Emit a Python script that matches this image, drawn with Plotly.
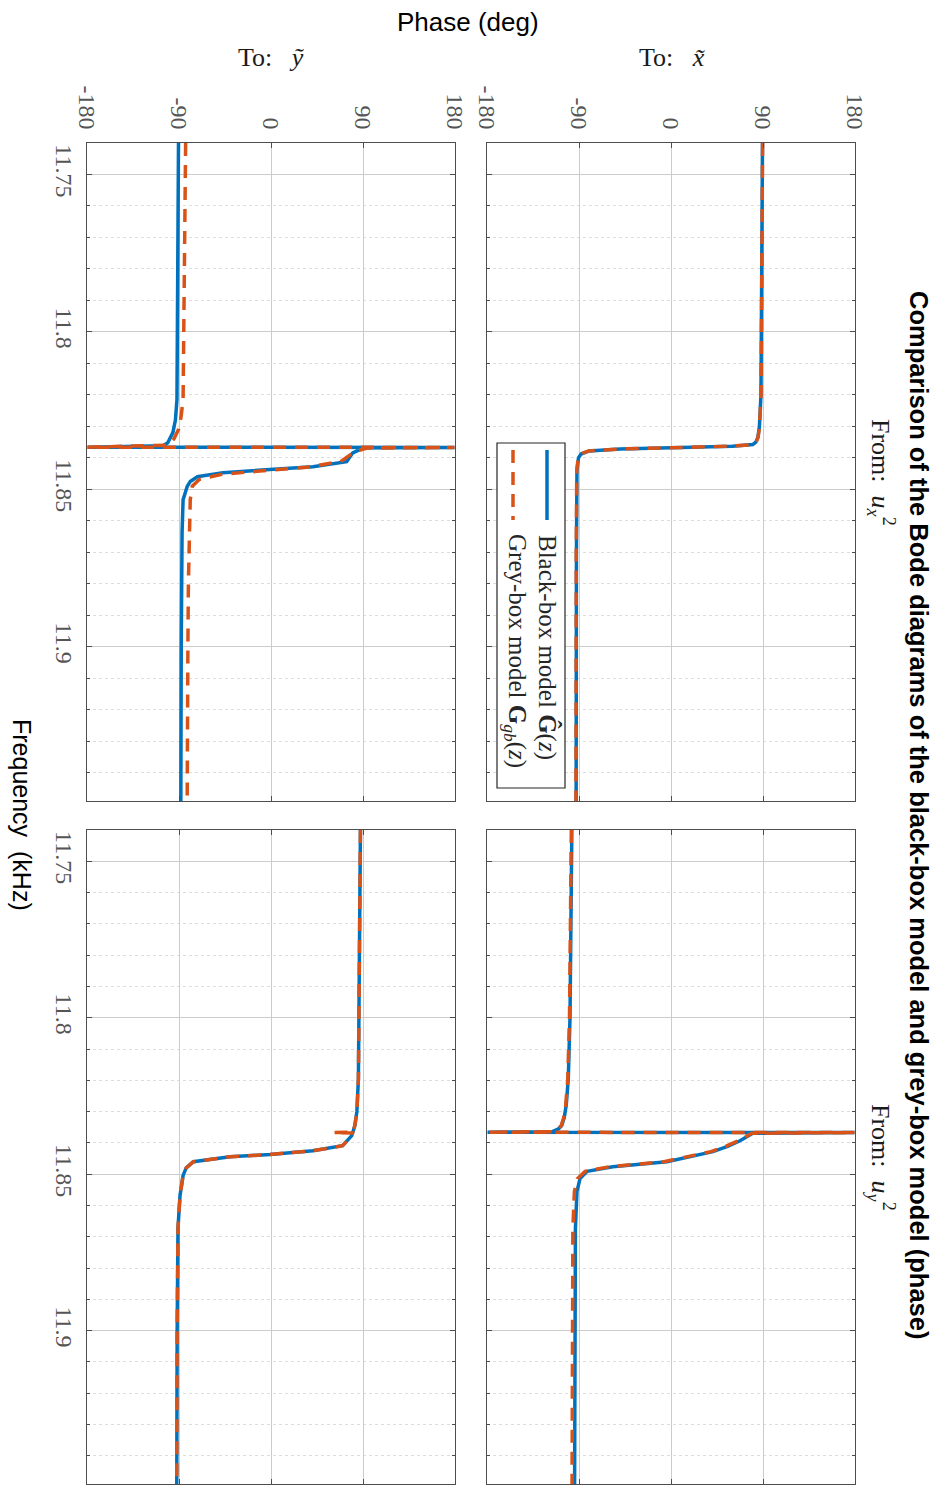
import plotly.graph_objects as go

# ---------------- data (frequency in kHz, phase in deg) ----------------
PHASE_TICKS = [-180, -90, 0, 90, 180]
PHASE_TICK_TEXT = ["-180", "-90", "0", "90", "180"]
FREQ_TICKS = [11.75, 11.80, 11.85, 11.90]
FREQ_TICK_TEXT = ["11.75", "11.8", "11.85", "11.9"]
FREQ_RANGE = [11.74, 11.949]

# From u_x^2 -> To y~
freq_ux_y_bb = [11.740, 11.760, 11.780, 11.800, 11.815, 11.8215, 11.828, 11.832, 11.8352, 11.8362,
                11.8366, 11.8367, 11.8369, 11.8384, 11.8412, 11.8428, 11.8437, 11.8447, 11.8460,
                11.8475, 11.8491, 11.8533, 11.8638, 11.880, 11.900, 11.925, 11.949]
phase_ux_y_bb = [-90.5, -90.8, -91.0, -91.3, -91.7, -92.0, -93.5, -96.0, -101.0, -106.0,
                 -179.5, 179.5, 90.0, 80.0, 74.0, 41.0, -4.0, -47.0, -72.0,
                 -79.0, -82.0, -86.0, -87.0, -87.5, -87.8, -88.0, -88.2]
freq_ux_y_gb = [11.740, 11.760, 11.780, 11.800, 11.815, 11.8215, 11.827, 11.831, 11.834, 11.8360,
                11.8366, 11.8367, 11.8369, 11.8380, 11.8412, 11.8430, 11.8440, 11.8452, 11.8468,
                11.8490, 11.8533, 11.8638, 11.880, 11.900, 11.925, 11.949]
phase_ux_y_gb = [-83.5, -84.0, -84.5, -85.0, -85.5, -86.0, -88.0, -90.5, -95.0, -101.0,
                 -179.5, 179.5, 94.0, 82.0, 68.0, 35.0, -8.0, -48.0, -70.0,
                 -77.0, -79.0, -80.0, -80.8, -81.3, -81.7, -82.0]

# From u_x^2 -> To x~
freq_ux_x_bb = [11.740, 11.770, 11.800, 11.820, 11.830, 11.8335, 11.8350, 11.8358, 11.8363, 11.8368,
                11.8372, 11.8378, 11.8388, 11.8400, 11.8440, 11.870, 11.900, 11.949]
phase_ux_x_bb = [89.5, 89.2, 88.8, 88.0, 86.5, 85.0, 83.0, 80.0, 60.0, 0.0,
                 -50.0, -80.0, -88.0, -90.5, -92.0, -92.5, -92.7, -92.8]
freq_ux_x_gb = [11.740, 11.770, 11.800, 11.820, 11.830, 11.8335, 11.8350, 11.8358, 11.8363, 11.8368,
                11.8372, 11.8378, 11.8388, 11.8400, 11.8440, 11.870, 11.900, 11.949]
phase_ux_x_gb = [89.6, 89.3, 88.9, 88.1, 86.6, 85.2, 83.2, 80.3, 59.0, -1.0,
                 -51.0, -80.5, -88.3, -90.8, -92.2, -92.7, -92.9, -93.0]

# From u_y^2 -> To y~
freq_uy_y_bb = [11.740, 11.770, 11.800, 11.8196, 11.8301, 11.8345, 11.8377, 11.8409, 11.8425, 11.8437,
                11.8444, 11.8452, 11.8460, 11.8480, 11.8504, 11.8568, 11.8673, 11.900, 11.949]
phase_uy_y_bb = [87.5, 87.0, 86.3, 85.5, 84.0, 82.0, 79.0, 70.0, 41.0, -1.0,
                 -40.0, -60.0, -76.0, -83.0, -86.0, -89.0, -91.0, -91.8, -92.2]
freq_uy_y_gb = [11.740, 11.770, 11.800, 11.8196, 11.8301, 11.8345, 11.8366, 11.8367, 11.8368, 11.8377,
                11.8409, 11.8425, 11.8437, 11.8444, 11.8452, 11.8460, 11.8480, 11.8504, 11.8568,
                11.8673, 11.900, 11.949]
phase_uy_y_gb = [87.5, 87.0, 86.3, 85.5, 84.0, 82.0, 80.0, 61.0, 79.8, 79.0,
                 70.0, 41.0, -1.0, -40.0, -60.0, -76.0, -83.0, -86.0, -89.0,
                 -91.0, -91.8, -92.2]

# From u_y^2 -> To x~
freq_uy_x_bb = [11.740, 11.770, 11.800, 11.8196, 11.828, 11.832, 11.8345, 11.8355, 11.8364, 11.8366,
                11.8367, 11.8369, 11.8393, 11.8410, 11.8428, 11.8445, 11.8460, 11.8476, 11.8491,
                11.8514, 11.8555, 11.8673, 11.900, 11.949]
phase_uy_x_bb = [-97.0, -97.8, -98.8, -100.5, -102.5, -104.5, -107.0, -110.0, -116.0, -179.5,
                 179.5, 80.0, 67.5, 56.0, 41.0, 18.0, -4.0, -57.0, -82.0,
                 -89.0, -92.0, -93.5, -94.0, -94.3]
freq_uy_x_gb = [11.740, 11.770, 11.800, 11.8196, 11.828, 11.832, 11.8345, 11.8355, 11.8364, 11.8366,
                11.8367, 11.8369, 11.8393, 11.8410, 11.8428, 11.8445, 11.8460, 11.8476, 11.8491,
                11.8514, 11.8555, 11.8673, 11.900, 11.949]
phase_uy_x_gb = [-97.5, -98.3, -99.3, -101.0, -103.0, -105.0, -107.5, -110.5, -117.0, -179.5,
                 179.5, 79.0, 66.0, 54.0, 39.0, 16.0, -7.0, -60.0, -84.0,
                 -91.5, -94.5, -96.0, -96.5, -96.8]

SERIES_NAMES = ["Black-box model", "Grey-box model"]

# ---------------- layout helpers ----------------
W, H = 937, 1486


def px(x):
    return x / W


def py(y):
    return 1 - y / H


BLUE = "#0072BD"
ORANGE = "#D95319"
AXC = "#4d4d4d"
SERIF = "Liberation Serif"
SANS = "Liberation Sans"

fig = go.Figure()

panels = [
    ("x", "y", freq_ux_y_bb, phase_ux_y_bb, freq_ux_y_gb, phase_ux_y_gb),
    ("x2", "y2", freq_ux_x_bb, phase_ux_x_bb, freq_ux_x_gb, phase_ux_x_gb),
    ("x3", "y3", freq_uy_y_bb, phase_uy_y_bb, freq_uy_y_gb, phase_uy_y_gb),
    ("x4", "y4", freq_uy_x_bb, phase_uy_x_bb, freq_uy_x_gb, phase_uy_x_gb),
]
for xa, ya, fb, pb, fg, pg in panels:
    fig.add_trace(go.Scatter(x=pb, y=fb, xaxis=xa, yaxis=ya, mode="lines",
                             name=SERIES_NAMES[0], showlegend=False,
                             line=dict(color=BLUE, width=3.5)))
    fig.add_trace(go.Scatter(x=pg, y=fg, xaxis=xa, yaxis=ya, mode="lines",
                             name=SERIES_NAMES[1], showlegend=False,
                             line=dict(color=ORANGE, width=3.5, dash="13px,9px")))


def phase_axis(domain, anchor, labels):
    return dict(domain=domain, anchor=anchor, range=[-180, 180], automargin=False,
                tickmode="array", tickvals=PHASE_TICKS, ticktext=PHASE_TICK_TEXT,
                showticklabels=labels, side="top", tickangle=90,
                ticklabelstandoff=4,
                tickfont=dict(family=SERIF, size=24, color="#555555"),
                showgrid=True, gridcolor="#cccccc", gridwidth=1, zeroline=False,
                showline=True, linecolor=AXC, linewidth=1.3, mirror="allticks",
                ticks="inside", ticklen=5, tickcolor=AXC)


def freq_axis(domain, anchor, labels):
    return dict(domain=domain, anchor=anchor, range=[FREQ_RANGE[1], FREQ_RANGE[0]],
                automargin=False,
                tickmode="array", tickvals=FREQ_TICKS, ticktext=FREQ_TICK_TEXT,
                showticklabels=labels, tickangle=90, ticklabelstandoff=1,
                tickfont=dict(family=SERIF, size=24, color="#555555"),
                showgrid=True, gridcolor="#cccccc", gridwidth=1, zeroline=False,
                showline=True, linecolor=AXC, linewidth=1.3, mirror="allticks",
                ticks="inside", ticklen=5, tickcolor=AXC,
                minor=dict(dtick=0.01, tick0=11.74, showgrid=True, gridcolor="#dddddd",
                           griddash="dot", gridwidth=1, ticks="inside", ticklen=3,
                           tickcolor=AXC))


colL = [px(87), px(455)]
colR = [px(487), px(855)]
rowT = [py(801), py(143)]
rowB = [py(1484), py(830)]

fig.update_layout(
    width=W, height=H,
    margin=dict(l=0, r=0, t=0, b=0, pad=0, autoexpand=False),
    paper_bgcolor="white", plot_bgcolor="white",
    showlegend=False,
    xaxis=phase_axis(colL, "y", True),
    xaxis2=phase_axis(colR, "y2", True),
    xaxis3=phase_axis(colL, "y3", False),
    xaxis4=phase_axis(colR, "y4", False),
    yaxis=freq_axis(rowT, "x", True),
    yaxis2=freq_axis(rowT, "x2", False),
    yaxis3=freq_axis(rowB, "x3", True),
    yaxis4=freq_axis(rowB, "x4", False),
)

ann = []


def add_text(text, x, y, size, family, angle=0, color="#1a1a1a"):
    ann.append(dict(text=text, x=px(x), y=py(y), xref="paper", yref="paper",
                    showarrow=False, textangle=angle, xanchor="center", yanchor="middle",
                    font=dict(family=family, size=size, color=color)))


add_text("<b>Comparison of the Bode diagrams of the black-box model and grey-box model (phase)</b>",
         919, 815, 25.5, SANS, 90, "#000000")
add_text("Phase (deg)", 468, 22, 26, SANS, 0, "#000000")
add_text("Frequency  (kHz)", 22, 815, 25, SANS, 90, "#000000")
add_text("To:&nbsp;&nbsp;&nbsp;<i>y\u0303</i>", 271, 57, 26, SERIF, 0)
add_text("To:&nbsp;&nbsp;&nbsp;<i>x\u0303</i>", 672, 57, 26, SERIF, 0)
add_text("From:&nbsp;&nbsp;<i>u</i><sub><i>x</i></sub><sup>2</sup>", 881, 472, 26, SERIF, 90)
add_text("From:&nbsp;&nbsp;<i>u</i><sub><i>y</i></sub><sup>2</sup>", 881, 1157, 26, SERIF, 90)

# rotated legend
add_text("Black-box model <b>\u011c</b>(<i>z</i>)", 548, 647, 25, SERIF, 90, "#262626")
add_text("Grey-box model <b>G</b><sub><i>gb</i></sub>(<i>z</i>)", 516, 651, 25, SERIF, 90, "#262626")

shapes = [
    dict(type="rect", xref="paper", yref="paper", x0=px(497), x1=px(565), y0=py(788), y1=py(443),
         line=dict(color="#262626", width=1.2), fillcolor="white", layer="above"),
    dict(type="line", xref="paper", yref="paper", x0=px(547), x1=px(547), y0=py(450), y1=py(520),
         line=dict(color=BLUE, width=3.5), layer="above"),
    dict(type="line", xref="paper", yref="paper", x0=px(513), x1=px(513), y0=py(450), y1=py(520),
         line=dict(color=ORANGE, width=3.5, dash="13px,9px"), layer="above"),
]

fig.update_layout(annotations=ann, shapes=shapes)
fig.write_html("out.html", config={"displayModeBar": False},
               post_script="document.body.style.margin='0';document.body.style.padding='0';")
